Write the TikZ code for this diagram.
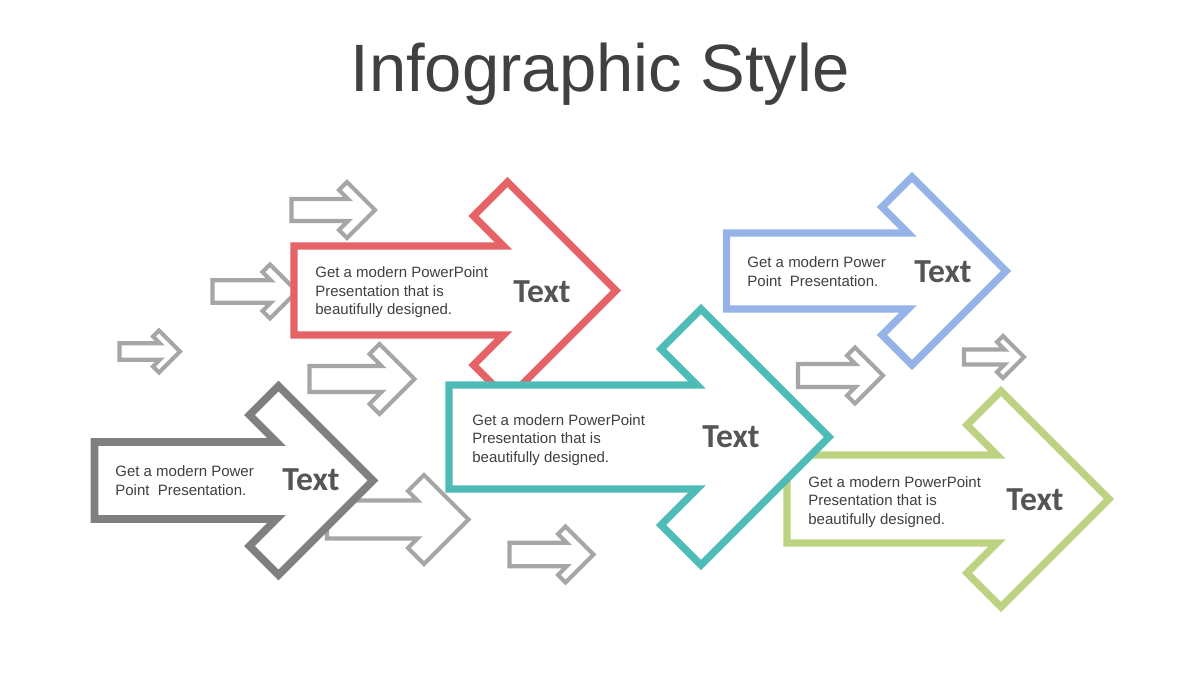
\documentclass[tikz,border=0pt]{standalone}
\usepackage{fontspec}
\setmainfont{Liberation Sans}
\newfontfamily\labfont{Carlito}
\definecolor{cred}{HTML}{E56366}
\definecolor{cteal}{HTML}{4FBBB6}
\definecolor{cblue}{HTML}{95B3E8}
\definecolor{cgreen}{HTML}{BED382}
\definecolor{cdark}{HTML}{7F7F7F}
\definecolor{clight}{HTML}{A6A6A6}
\definecolor{ctxt}{HTML}{404040}
\definecolor{clab}{HTML}{555555}
% args: style, left x, centre y, body half-height, tip x, head half-height, notch depth
\newcommand{\blockarrow}[7]{%
  \draw[#1] (#2,{#3-#4}) -- ({#5-2*#7-#4},{#3-#4}) -- ({#5-#6-#7},{#3-#6+#7})
   -- ({#5-#6},{#3-#6}) -- (#5,#3) -- ({#5-#6},{#3+#6}) -- ({#5-#6-#7},{#3+#6-#7})
   -- ({#5-2*#7-#4},{#3+#4}) -- (#2,{#3+#4}) -- cycle;}
\begin{document}
\begin{tikzpicture}[x=0.5pt,y=-0.5pt,
  small/.style={draw=clight,line width=2.1pt,fill=white},
  big/.style={line width=3.6pt,fill=white},
  bodytxt/.style={font=\fontsize{7.5pt}{9.25pt}\selectfont,align=left,inner sep=0pt,text=ctxt,anchor=base west},
  labtxt/.style={font=\labfont\bfseries\fontsize{16.8pt}{18pt}\selectfont,inner sep=0pt,text=clab,anchor=base west}]
\useasboundingbox[fill=white] (0,0) rectangle (1200,675);
\node[font=\fontsize{33.5pt}{40pt}\selectfont,text=ctxt,anchor=base,inner sep=0pt] (title) at (600,91) {Infographic Style};
% small grey arrows
\blockarrow{small}{291.5}{210}{11}{375}{28}{8}
\blockarrow{small}{212.5}{291.5}{11.2}{297}{27}{7.5}
\blockarrow{small}{119.5}{351.5}{8.2}{180}{21}{6}
\blockarrow{small}{309.5}{379}{13}{414.5}{35}{10}
\blockarrow{small}{327}{519.5}{19}{468.5}{44.5}{16}
\blockarrow{small}{509.5}{554.5}{11.7}{593.5}{28}{7.5}
\blockarrow{small}{798}{375.5}{11.5}{883}{28}{8}
\blockarrow{small}{964}{357}{7.5}{1024}{21}{6}
% large arrows
\blockarrow{big,draw=cred}{294}{290.5}{44.5}{616}{108.5}{34}
\blockarrow{big,draw=cgreen}{787}{499}{44}{1109}{108}{34}
\blockarrow{big,draw=cblue}{726.5}{271}{38}{1006}{94}{30}
\blockarrow{big,draw=cdark,line width=3.8pt}{94.5}{480.5}{38.5}{373}{94.5}{29}
\blockarrow{big,draw=cteal}{449}{437}{52}{829}{128}{40}
% texts (base anchor = baseline of last line)
\node[bodytxt] (redtxt) at (315,314.5) {Get a modern PowerPoint\\Presentation that is\\beautifully designed.};
\node[labtxt] (redlab) at (513,302.5) {Text};
\node[bodytxt] (tealtxt) at (472,462) {Get a modern PowerPoint\\Presentation that is\\beautifully designed.};
\node[labtxt] (teallab) at (702,447) {Text};
\node[bodytxt] (greentxt) at (808,524) {Get a modern PowerPoint\\Presentation that is\\beautifully designed.};
\node[labtxt] (greenlab) at (1006,510.5) {Text};
\node[bodytxt] (bluetxt) at (747,286) {Get a modern Power\\Point\ \ Presentation.};
\node[labtxt] (bluelab) at (914,282.3) {Text};
\node[bodytxt] (darktxt) at (115,495) {Get a modern Power\\Point\ \ Presentation.};
\node[labtxt] (darklab) at (282,490.7) {Text};
\end{tikzpicture}
\end{document}
